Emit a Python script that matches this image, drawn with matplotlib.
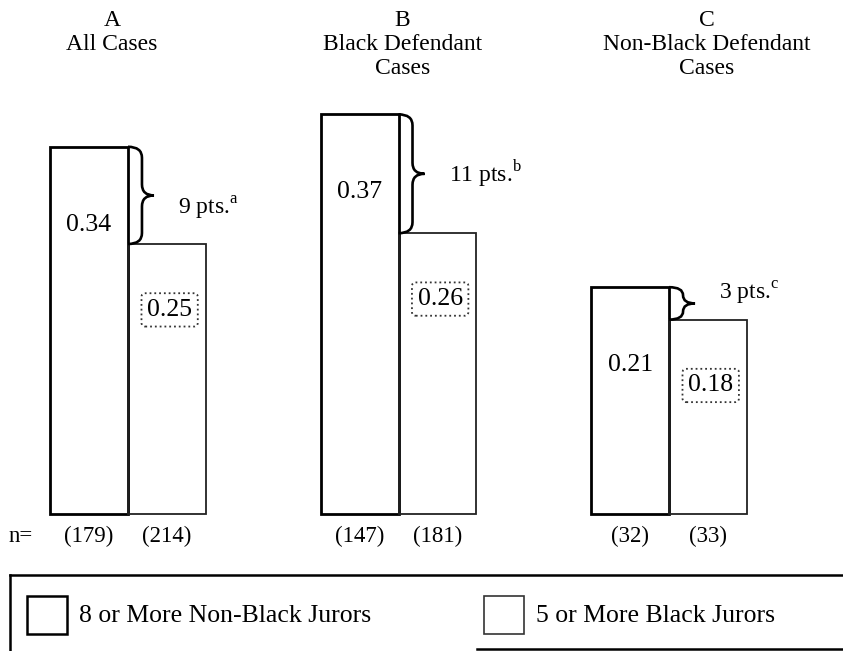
import numpy as np
import matplotlib as mpl
import matplotlib.pyplot as plt
from matplotlib.path import Path
from matplotlib.patches import PathPatch, Rectangle
from matplotlib.lines import Line2D
import matplotlib.transforms as mtransforms

mpl.rcParams['font.family'] = ['Liberation Serif', 'DejaVu Serif']
mpl.rcParams['mathtext.fontset'] = 'custom'
mpl.rcParams['mathtext.rm'] = 'Liberation Serif'

# data
groups = ['A\nAll Cases', 'B\nBlack Defendant\nCases', 'C\nNon-Black Defendant\nCases']
nonblack = [0.34, 0.37, 0.21]      # 8 or more non-black jurors
black = [0.25, 0.26, 0.18]         # 5 or more black jurors
n_nonblack = [179, 147, 32]
n_black = [214, 181, 33]
gap_labels = ['9 pts.', '11 pts.', '3 pts.']
gap_notes = ['a', 'b', 'c']
legend_labels = ['8 or More Non-Black Jurors', '5 or More Black Jurors']

W, H = 843, 651
fig = plt.figure(figsize=(W / 100, H / 100), dpi=100)
ax = fig.add_axes([0, 137 / H, 1, 413 / H])
ax.set_xlim(-0.473, 2.643)
ax.set_ylim(0, 413 / 1080)
ax.axis('off')

x = np.arange(len(groups))
w = 0.288
ax.bar(x - w / 2, nonblack, w, facecolor='white', edgecolor='black', lw=2.0, clip_on=False)
ax.bar(x + w / 2, black, w, facecolor='none', edgecolor='#222222', lw=1.3, clip_on=False)

# value labels
for i in range(len(groups)):
    ax.text(x[i] - w / 2, nonblack[i] - 0.072, f'{nonblack[i]:.2f}', ha='center', va='center',
            fontsize=18.5)
    ax.text(x[i] + w / 2 + 0.01, black[i] - 0.061, f'{black[i]:.2f}', ha='center', va='center',
            fontsize=18.5,
            bbox=dict(boxstyle='round,pad=0.22,rounding_size=0.15', fc='none', ec='#333333',
                      ls=':', lw=1.3))


def brace(x0, y_lo, y_hi):
    # curly brace "}" from the corner of the taller bar down to the shorter bar
    xb = x0 + 14 / 270.5
    xt = x0 + 26 / 270.5
    ym = (y_lo + y_hi) / 2
    r = min(11 / 1080, (y_hi - y_lo) / 4)
    verts = [(x0, y_hi), (xb, y_hi), (xb, y_hi - r),
             (xb, ym + r),
             (xb, ym), (xt, ym),
             (xb, ym), (xb, ym - r),
             (xb, y_lo + r),
             (xb, y_lo), (x0, y_lo)]
    codes = [Path.MOVETO, Path.CURVE3, Path.CURVE3,
             Path.LINETO,
             Path.CURVE3, Path.CURVE3,
             Path.CURVE3, Path.CURVE3,
             Path.LINETO,
             Path.CURVE3, Path.CURVE3]
    ax.add_patch(PathPatch(Path(verts, codes), fc='none', ec='black', lw=1.9, clip_on=False))
    return xt, ym


gap_dy = [-0.012, 0.0, 0.009]
for i in range(len(groups)):
    xt, ym = brace(x[i], black[i], nonblack[i])
    ax.text(xt + 24 / 270.5, ym + gap_dy[i], gap_labels[i] + r'$^{\mathrm{' + gap_notes[i] + '}}$',
            ha='left', va='center', fontsize=17)

# group headers
head_tr = mtransforms.blended_transform_factory(ax.transData, fig.transFigure)
head_shift = [-0.059, 0.015, 0.14]
for i, g in enumerate(groups):
    ax.text(x[i] + head_shift[i], 1 - 10 / H, g, transform=head_tr, ha='center', va='top',
            fontsize=17, linespacing=1.2)

# n counts
ax.text(-0.396, -0.021, 'n=', ha='center', va='center', fontsize=16.5, clip_on=False)
for i in range(len(groups)):
    ax.text(x[i] - w / 2, -0.021, f'({n_nonblack[i]})', ha='center', va='center', fontsize=16.5)
    ax.text(x[i] + w / 2, -0.021, f'({n_black[i]})', ha='center', va='center', fontsize=16.5)


# legend box (pixel positions from top-left)
def fx(px):
    return px / W


def fy(py):
    return 1 - py / H


fig.add_artist(Line2D([fx(10), fx(843)], [fy(575), fy(575)], color='black', lw=1.8))
fig.add_artist(Line2D([fx(10), fx(10)], [fy(575), fy(651)], color='black', lw=1.8))
fig.add_artist(Line2D([fx(477), fx(843)], [fy(649), fy(649)], color='black', lw=1.8))

leg_x = [27, 484]
leg_styles = [dict(lw=1.8, ec='black'), dict(lw=1.2, ec='#333333')]
for lx, lab, st in zip(leg_x, legend_labels, leg_styles):
    fig.add_artist(Rectangle((fx(lx), fy(634)), 40 / W, 38 / H, transform=fig.transFigure,
                             fc='white', **st))
    fig.text(fx(lx + 52), fy(616), lab, ha='left', va='center', fontsize=18.5)

fig.savefig('out.png', dpi=100)
